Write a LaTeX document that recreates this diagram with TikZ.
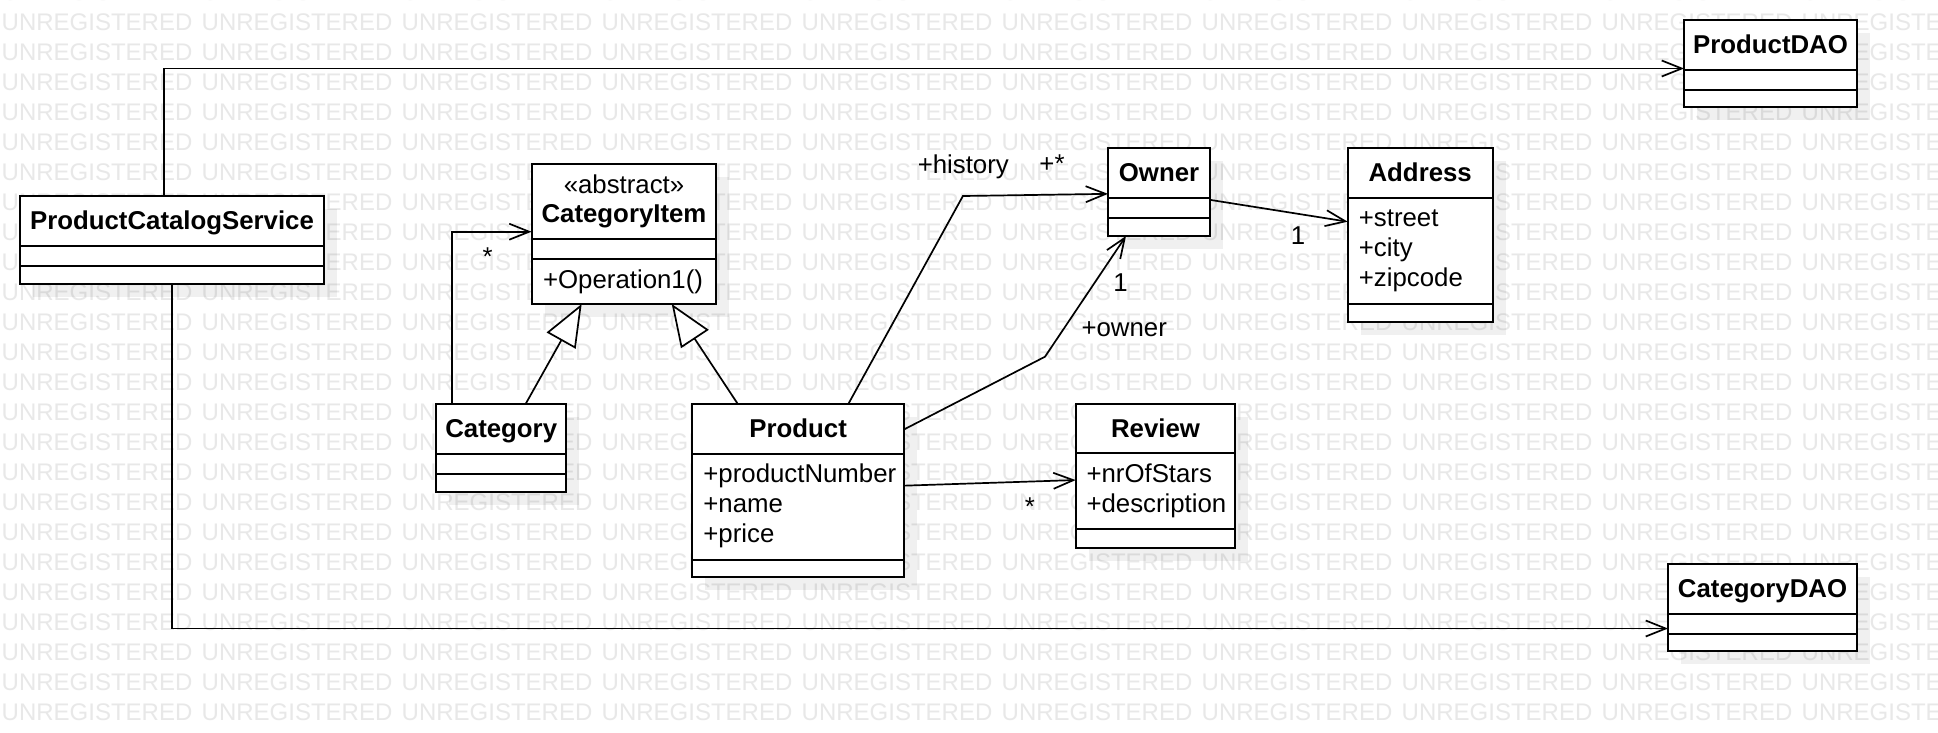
\documentclass[tikz,border=0pt]{standalone}
\usepackage{fontspec}
\setmainfont{Liberation Sans}
\usetikzlibrary{arrows.meta,calc}
\tikzset{
  every node/.style={inner sep=0pt, outer sep=0pt},
  txt/.style={font=\fontsize{25.8}{30}\selectfont, anchor=base},
  ttl/.style={txt, font=\fontsize{25.8}{30}\selectfont\bfseries},
  attr/.style={txt, anchor=base west},
  lab/.style={txt},
  wm/.style={font=\fontsize{24}{28}\selectfont, text=black!9, anchor=base west},
  umlbox/.style={draw, line width=2pt, fill=white, rectangle},
  sepline/.style={line width=2pt},
  shadowfill/.style={fill=black, fill opacity=0.06},
  assoc/.style={line width=1.7pt, -{Straight Barb[length=20pt,width=16pt]}},
  gen/.style={line width=1.7pt, -{Triangle[length=42pt,width=33pt,fill=white]}},
}
\newcommand\classbox[6]{%
  \fill[shadowfill] (#2+13,#3+13) rectangle (#4+13,#5+13);
  \pgfmathsetmacro\bw{#4-#2}\pgfmathsetmacro\bh{#5-#3}%
  \node[umlbox, minimum width=\bw pt, minimum height=\bh pt] (#1) at ({(#2+#4)/2},{(#3+#5)/2}) {};
  \foreach \yy in {#6} {\draw[sepline] (#2,\yy) -- (#4,\yy);}
}
\begin{document}
\begin{tikzpicture}[x=1pt,y=-1pt]
\useasboundingbox (0,0) rectangle (1938,732);
\clip (0,0) rectangle (1938,732);
\fill[white] (0,0) rectangle (1938,732);
% watermark
\foreach \r in {0,...,24} {\foreach \c in {0,...,9} {\node[wm] (wm-\r-\c) at ({1.7+200*\c},{0.7+30*\r}) {UNREGISTERED};}}
% classes
\classbox{pcs}{20}{196}{324}{284}{246,266}
\classbox{pdao}{1684}{20}{1857}{107}{70,90}
\classbox{cdao}{1668}{564}{1857}{651}{614,634}
\classbox{citem}{531.5}{164}{716.4}{304}{239.3,259.3}
\classbox{cat}{436.1}{404}{566.3}{491.7}{454,474}
\classbox{prod}{691.8}{404}{904.4}{577.3}{454,560}
\classbox{owner}{1108}{147.7}{1210}{236}{197.7,217.7}
\classbox{addr}{1347.7}{147.7}{1492.8}{321.7}{198.3,304}
\classbox{rev}{1075.7}{404}{1235.3}{547.7}{453.3,529.3}
% texts
\node[ttl] (pcs-t) at (172,229.3) {ProductCatalogService};
\node[ttl] (pdao-t) at (1770.5,53.3) {ProductDAO};
\node[ttl] (cdao-t) at (1762.5,597) {CategoryDAO};
\node[txt] (citem-s) at (624,193.3) {«abstract»};
\node[ttl] (citem-t) at (624,222.7) {CategoryItem};
\node[attr] (citem-o) at (543.1,288.5) {+Operation1()};
\node[ttl] (cat-t) at (501.2,437.3) {Category};
\node[ttl] (prod-t) at (798.1,437.3) {Product};
\node[attr] (prod-a1) at (703.4,482) {+productNumber};
\node[attr] (prod-a2) at (703.4,512) {+name};
\node[attr] (prod-a3) at (703.4,542) {+price};
\node[ttl] (owner-t) at (1159,181) {Owner};
\node[ttl] (addr-t) at (1420.2,181) {Address};
\node[attr] (addr-a1) at (1358.9,226.5) {+street};
\node[attr] (addr-a2) at (1358.9,256.2) {+city};
\node[attr] (addr-a3) at (1358.9,286) {+zipcode};
\node[ttl] (rev-t) at (1155.5,437.3) {Review};
\node[attr] (rev-a1) at (1086.5,482.2) {+nrOfStars};
\node[attr] (rev-a2) at (1086.5,512) {+description};
% connectors
\draw[assoc] ($(pcs.north)+(-8,0)$) |- ($(pdao.west)+(0,5)$);
\draw[assoc] (pcs.south) |- ($(cdao.west)+(0,21)$);
\draw[assoc] ($(cat.north)+(-49.3,0)$) |- ($(citem.west)+(0,-2.3)$);
\draw[gen] ($(cat.north)+(24.4,0)$) -- ($(citem.south)+(-42.3,0)$);
\draw[gen] ($(prod.north)+(-60.3,0)$) -- ($(citem.south)+(47.8,0)$);
\coordinate (hbend) at (962.9,196);
\draw[assoc] ($(prod.north)+(50.2,0)$) -- (hbend) -- ($(owner.west)+(0,2)$);
\coordinate (obend) at (1045,356.7);
\draw[assoc] ($(prod.east)+(0,-61.4)$) -- (obend) -- ($(owner.south)+(-33,0)$);
\draw[assoc] ($(owner.east)+(0,8)$) -- ($(addr.west)+(0,-13)$);
\draw[assoc] ($(prod.east)+(0,-5)$) -- ($(rev.west)+(0,4.2)$);
% labels
\node[lab] (l-cat) at (487.7,265) {*};
\node[lab] (l-hist) at (963.3,173.3) {+history};
\node[lab] (l-histm) at (1052,172) {+*};
\node[lab] (l-addr) at (1298,244) {1};
\node[lab] (l-own1) at (1120.5,291.7) {1};
\node[lab] (l-own) at (1124.2,336) {+owner};
\node[lab] (l-rev) at (1030,515) {*};
\end{tikzpicture}
\end{document}
